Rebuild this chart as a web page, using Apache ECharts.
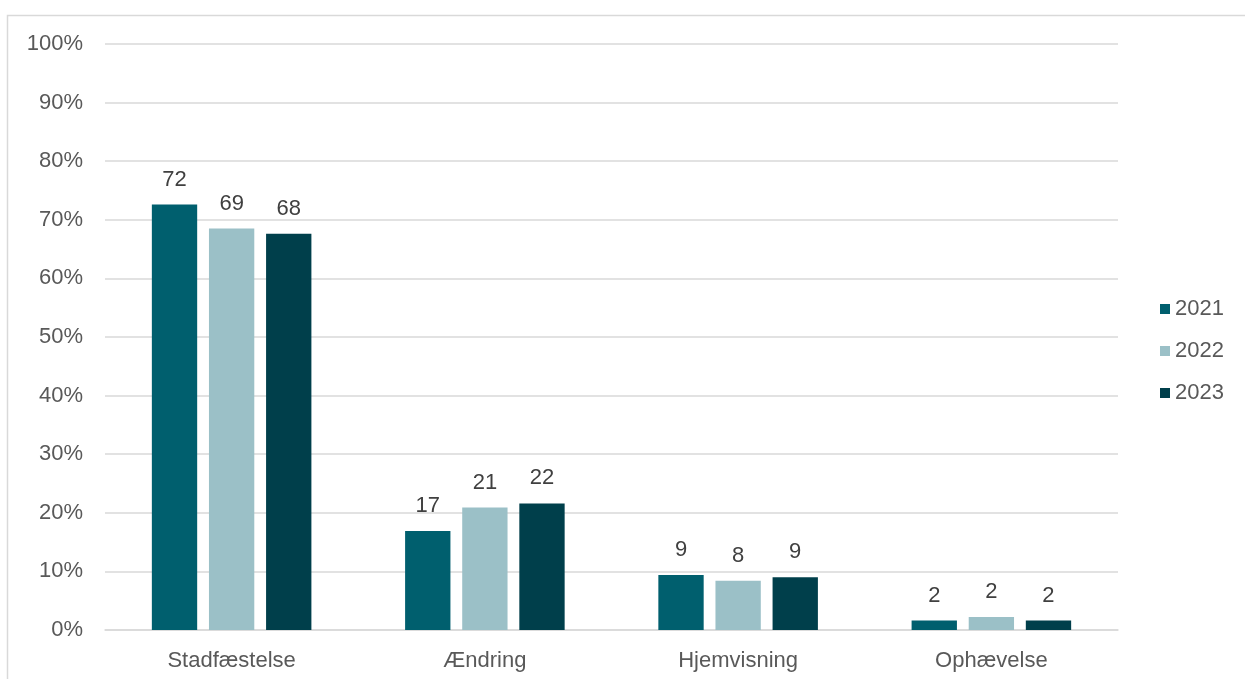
<!DOCTYPE html>
<html>
<head>
<meta charset="utf-8">
<script src="https://cdn.jsdelivr.net/npm/echarts@6/dist/echarts.min.js"></script>
<style>
html,body{margin:0;padding:0;background:#fff;}
#chart{width:1245px;height:679px;}
</style>
</head>
<body>
<div id="chart"></div>
<script>
var categories = ['Stadfæstelse', 'Ændring', 'Hjemvisning', 'Ophævelse'];
var years = ['2021', '2022', '2023'];
var values2021 = [72.6, 16.9, 9.4, 1.6];
var values2022 = [68.5, 20.9, 8.4, 2.2];
var values2023 = [67.6, 21.6, 9.0, 1.6];
var labels2021 = [72, 17, 9, 2];
var labels2022 = [69, 21, 8, 2];
var labels2023 = [68, 22, 9, 2];
var yTicks = [0, 10, 20, 30, 40, 50, 60, 70, 80, 90, 100];
var colors = ['#005F6E', '#9BC0C7', '#003F4B'];

var chart = echarts.init(document.getElementById('chart'), null, {renderer: 'canvas'});
var font = 'Liberation Sans, Arial, sans-serif';

function mkSeries(name, vals, labs, color) {
  return {
    name: name,
    type: 'bar',
    data: vals,
    barGap: '26%',
    barCategoryGap: '37%',
    itemStyle: {color: color},
    label: {
      show: true,
      position: 'top',
      distance: 13,
      color: '#404040',
      fontFamily: font,
      fontSize: 22,
      lineHeight: 24,
      formatter: function (p) { return labs[p.dataIndex]; }
    }
  };
}

chart.setOption({
  animation: false,
  backgroundColor: '#fff',
  graphic: [{
    type: 'polyline',
    shape: {points: [[7.5, 679], [7.5, 15.5], [1245, 15.5]]},
    style: {stroke: '#d9d9d9', lineWidth: 1.5, fill: null},
    silent: true
  }],
  grid: {left: 105, right: 127, top: 44, bottom: 49, containLabel: false},
  legend: {
    orient: 'vertical',
    left: 1160,
    top: 298,
    padding: 0,
    itemWidth: 10,
    itemHeight: 10,
    itemGap: 20,
    icon: 'rect',
    data: years,
    textStyle: {color: '#595959', fontFamily: font, fontSize: 22, lineHeight: 22, padding: [0, 0, 0, 0]}
  },
  xAxis: {
    type: 'category',
    data: categories,
    axisTick: {show: false},
    axisLine: {lineStyle: {color: '#d9d9d9', width: 1.5}},
    axisLabel: {color: '#595959', fontFamily: font, fontSize: 22, margin: 20}
  },
  yAxis: {
    type: 'value',
    min: 0,
    max: 100,
    interval: 10,
    axisLine: {show: false},
    axisTick: {show: false},
    splitLine: {lineStyle: {color: '#d9d9d9', width: 1.5}},
    axisLabel: {
      color: '#595959', fontFamily: font, fontSize: 22, margin: 22,
      formatter: function (v) { return yTicks.indexOf(v) >= 0 ? v + '%' : ''; }
    }
  },
  series: [
    mkSeries(years[0], values2021, labels2021, colors[0]),
    mkSeries(years[1], values2022, labels2022, colors[1]),
    mkSeries(years[2], values2023, labels2023, colors[2])
  ]
});
</script>
</body>
</html>
